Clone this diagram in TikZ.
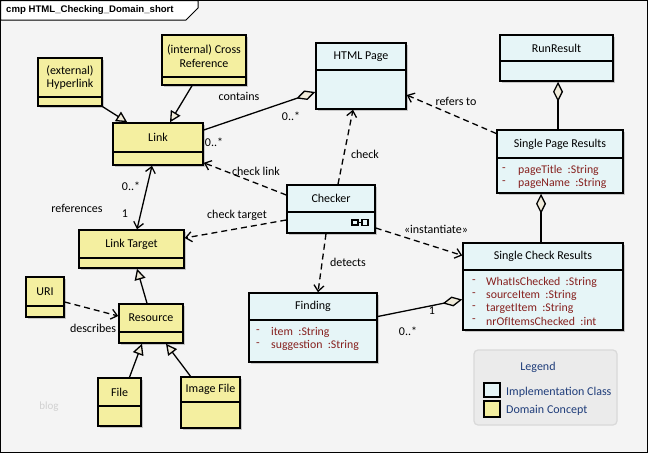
\documentclass[tikz,border=0pt]{standalone}
\usepackage{fontspec}
\setmainfont{Carlito}
\newfontfamily\titlefont{Liberation Sans}
\usetikzlibrary{arrows.meta,fit,shadows}
\definecolor{bgc}{HTML}{F4F4F4}
\definecolor{yel}{HTML}{F4EFA0}
\definecolor{blu}{HTML}{E6F5F7}
\definecolor{attrc}{HTML}{86201E}
\definecolor{legc}{HTML}{1F3D7A}
\definecolor{trif}{HTML}{F0EBDA}
\definecolor{legbg}{HTML}{EBEBEB}
\tikzset{
  clsbox/.style={draw=black, line width=1.5pt, inner sep=0pt,
    drop shadow={shadow xshift=2pt, shadow yshift=-2pt, fill=black, opacity=0.18}},
  clsline/.style={line width=1.2pt},
  clsname/.style={font=\fontsize{12}{13.5}\selectfont, inner sep=0pt},
  attr/.style={font=\fontsize{11.8}{13}\selectfont, text=attrc, inner sep=0pt, anchor=west},
  lbl/.style={font=\fontsize{12}{13}\selectfont, inner sep=0pt},
  conn/.style={line width=1.3pt},
  dep/.style={conn, dash pattern=on 6pt off 4pt, -{Straight Barb[length=6pt,width=10pt]}},
  gen/.style={conn, -{Triangle[open, fill=trif, length=11pt, width=11pt]}},
  agg/.style={conn, {Diamond[fill=trif, length=20pt, width=10pt]}-},
  nav/.style={conn, {Straight Barb[length=6pt,width=10pt]}-{Straight Barb[length=6pt,width=10pt]}},
}
\newcommand\cls[8]{%
  \node[clsbox, fill=#7, fit={(#2,#3) (#4,#5)}] (#1) {};
  \draw[clsline] (#2,#6) -- (#4,#6);
  \node[clsname, align=center] (#1-name) at ({(#2+#4)/2},{(#3+#6)/2}) {#8};
}
% \attrline{name}{xdash}{xtext}{y}{text}
\newcommand\attrline[5]{%
  \node[attr] (#1-d) at (#2,#4) {-};
  \node[attr] (#1) at (#3,#4) {#5};
}
\begin{document}
\begin{tikzpicture}[x=1pt,y=-1pt]
\useasboundingbox (0,0) rectangle (648,453);
\fill[bgc] (0,0) rectangle (648,453);
\draw[line width=1pt] (0.5,0.5) rectangle (647.5,452.5);
\draw[line width=1pt, fill=white] (0.5,0.5) -- (198,0.5) -- (198,8) -- (186,20) -- (0.5,20) -- cycle;
\node[anchor=west, inner sep=0pt, font=\titlefont\bfseries\fontsize{9.6}{11}\selectfont] (title) at (6,10.5) {cmp HTML\_Checking\_Domain\_short};
\node[text=black!18, font=\fontsize{11}{12}\selectfont, inner sep=0pt] (blog) at (49,407) {blog};

% classes
\cls{hyper}{38}{58}{102}{106}{97}{yel}{(external)\\Hyperlink}
\cls{cross}{162}{35}{246}{85}{77}{yel}{(internal) Cross\\Reference}
\cls{link}{113}{123}{203}{165}{152}{yel}{Link}
\cls{html}{316}{43}{406}{109}{70}{blu}{HTML Page}
\cls{run}{500}{35}{613}{81}{61}{blu}{RunResult}
\cls{spr}{497}{130}{623}{193}{158}{blu}{Single Page Results}
\cls{checker}{287}{185}{375}{233}{212}{blu}{Checker}
\cls{target}{79}{230}{184}{268}{258}{yel}{Link Target}
\cls{uri}{26}{277}{64}{317}{306}{yel}{URI}
\cls{res}{119}{304}{183}{343}{332}{yel}{Resource}
\cls{file}{98}{378}{141}{426}{406}{yel}{File}
\cls{img}{181}{377}{240}{428}{402}{yel}{Image File}
\cls{finding}{249}{293}{377}{362}{320}{blu}{Finding}
\cls{scr}{463}{243}{623}{330}{270}{blu}{Single Check Results}

\attrline{spr-a1}{502}{518}{170}{pageTitle\ \ :String}
\attrline{spr-a2}{502}{518}{183}{pageName\ \ :String}
\attrline{fin-a1}{256}{271}{332}{item\ \ :String}
\attrline{fin-a2}{256}{271}{345}{suggestion\ \ :String}
\attrline{scr-a1}{472}{486}{282}{WhatIsChecked\ \ :String}
\attrline{scr-a2}{472}{486}{295}{sourceItem\ \ :String}
\attrline{scr-a3}{472}{486}{308}{targetItem\ \ :String}
\attrline{scr-a4}{472}{486}{321}{nrOfItemsChecked\ \ :int}

% checker icon
\draw[line width=1.3pt] (352,220) rectangle (358,225) (362,219.5) rectangle (368,225.5) (358,222.5) -- (362,222.5);

% connectors
\draw[gen] (hyper.south east) -- ([xshift=15pt]link.north west);
\draw[gen] ([xshift=-12pt]cross.south) -- ([xshift=12pt]link.north);
\draw[agg] ([yshift=-16pt]html.west) -- ([yshift=14pt]link.east);
\node[lbl] (l-contains) at (239,96) {contains};
\node[lbl] (l-c1) at (291,116) {0..*};
\node[lbl] (l-c2) at (214,142) {0..*};
\draw[nav] ([xshift=-6pt]link.south) -- ([xshift=5.5pt]target.north);
\node[lbl] (l-r1) at (131,186) {0..*};
\node[lbl] (l-r2) at (125,214) {1};
\node[lbl] (l-ref) at (77,208) {references};
\draw[dep] ([yshift=14pt]checker.west) -- ([yshift=3pt]link.south east);
\node[lbl] (l-cl) at (256,171) {check link};
\draw[dep] ([yshift=-11pt]checker.west) -- ([yshift=11pt]target.east);
\node[lbl] (l-ct) at (237,215) {check target};
\draw[dep] ([xshift=7pt]checker.north) -- ([xshift=-8pt]html.south);
\node[lbl] (l-check) at (365,154) {check};
\draw[dep] ([xshift=-5pt]checker.south) -- ([xshift=5pt]finding.north);
\node[lbl] (l-det) at (348,262) {detects};
\draw[dep] ([yshift=-19pt]checker.east) -- ([yshift=31pt]scr.west);
\node[lbl] (l-inst) at (436,229) {«instantiate»};
\draw[dep] ([yshift=28pt]spr.west) -- ([yshift=-19pt]html.east);
\node[lbl] (l-refers) at (456,101) {refers to};
\draw[agg] ([xshift=1.5pt]run.south) -- ([xshift=-2pt]spr.north);
\draw[agg] ([xshift=-19pt]spr.south) -- ([xshift=-2pt]scr.north);
\draw[agg] ([yshift=-13pt]scr.west) -- ([yshift=11pt]finding.east);
\node[lbl] (l-f1) at (432,311) {1};
\node[lbl] (l-f2) at (408,331) {0..*};
\draw[dep] ([yshift=-5pt]uri.east) -- ([yshift=7.5pt]res.west);
\node[lbl] (l-desc) at (93,328) {describes};
\draw[gen] ([xshift=-4pt]res.north) -- ([xshift=5.5pt]target.south);
\draw[gen] ([xshift=10pt]file.north) -- ([xshift=-9pt]res.south);
\draw[gen] ([xshift=-20pt]img.north) -- ([xshift=15pt]res.south);

% legend
\node[draw=black!15, line width=1.2pt, fill=legbg, rounded corners=4pt, inner sep=0pt, fit={(474,350) (617,425)}] (legend) {};
\node[lbl, text=legc] (leg-title) at (538,367) {Legend};
\node[draw=black, line width=1.4pt, fill=blu, inner sep=0pt, fit={(484,383) (500,397)}] (leg-impl) {};
\node[draw=black, line width=1.4pt, fill=yel, inner sep=0pt, fit={(484,401) (500,417)}] (leg-dom) {};
\node[lbl, text=legc, anchor=west] (leg-impl-t) at (506,392) {Implementation Class};
\node[lbl, text=legc, anchor=west] (leg-dom-t) at (506,410) {Domain Concept};
\end{tikzpicture}
\end{document}
